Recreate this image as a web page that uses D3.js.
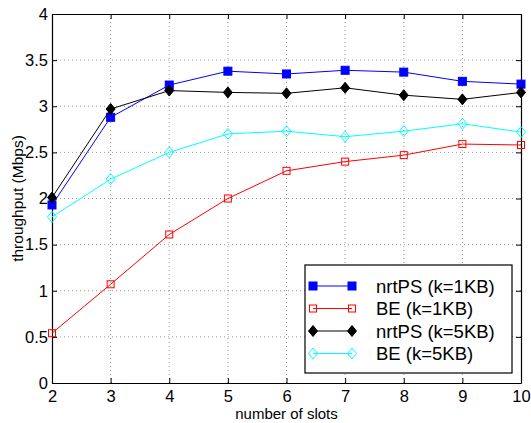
<!DOCTYPE html>
<html>
<head>
<meta charset="utf-8">
<script src="https://cdn.jsdelivr.net/npm/d3@7/dist/d3.min.js"></script>
<style>
  body { margin: 0; background: #fff; }
  svg { font-family: "Liberation Sans", Arial, Helvetica, sans-serif; }
</style>
</head>
<body>
<div id="chart"></div>
<script>
var width = 531, height = 423,
    margins = {top: 14, right: 10, bottom: 40, left: 52}

var slots = [2, 3, 4, 5, 6, 7, 8, 9, 10]
var nrtps1 = [1.93, 2.88, 3.23, 3.38, 3.35, 3.39, 3.37, 3.27, 3.24]
var be1 = [0.54, 1.07, 1.61, 2.00, 2.30, 2.40, 2.47, 2.59, 2.58]
var nrtps5 = [2.01, 2.97, 3.17, 3.15, 3.14, 3.20, 3.12, 3.075, 3.15]
var be5 = [1.80, 2.21, 2.50, 2.70, 2.73, 2.67, 2.73, 2.81, 2.72]
var yTicks = [0, 0.5, 1, 1.5, 2, 2.5, 3, 3.5, 4]

var series = [
    {name: 'nrtPS (k=1KB)', values: nrtps1, color: '#0000ff', shape: 'square', filled: true},
    {name: 'BE (k=1KB)', values: be1, color: '#ff0000', shape: 'square', filled: false},
    {name: 'nrtPS (k=5KB)', values: nrtps5, color: '#000000', shape: 'diamond', filled: true},
    {name: 'BE (k=5KB)', values: be5, color: '#00ffff', shape: 'diamond', filled: false}
]

var x = d3.scaleLinear().domain([2, 10]).range([margins.left, width - margins.right])
var y = d3.scaleLinear().domain([0, 4]).range([height - margins.bottom, margins.top])

var svg = d3.select('#chart').append('svg')
    .attr('width', width)
    .attr('height', height)

// grid
var grid = svg.append('g').attr('class', 'grid')
grid.selectAll('.gx').data(slots.slice(1, -1)).enter().append('line')
    .attr('x1', d => x(d)).attr('x2', d => x(d))
    .attr('y1', y(0)).attr('y2', y(4))
    .attr('stroke', '#999').attr('stroke-width', 1).attr('stroke-dasharray', '1,3')
grid.selectAll('.gy').data(yTicks.slice(1, -1)).enter().append('line')
    .attr('y1', d => y(d)).attr('y2', d => y(d))
    .attr('x1', x(2)).attr('x2', x(10))
    .attr('stroke', '#999').attr('stroke-width', 1).attr('stroke-dasharray', '1,3')

// axes, matlab style ticks inside
var xAxis = d3.axisBottom(x).tickValues(slots).tickSizeInner(-5).tickSizeOuter(0).tickPadding(7.5)
var yAxis = d3.axisLeft(y).tickValues(yTicks).tickFormat(d3.format('')).tickSizeInner(-5).tickSizeOuter(0).tickPadding(4)

var gx = svg.append('g').attr('transform', 'translate(0,' + y(0) + ')').call(xAxis)
var gy = svg.append('g').attr('transform', 'translate(' + x(2) + ',0)').call(yAxis)
svg.append('g').attr('transform', 'translate(0,' + y(4) + ')')
    .call(d3.axisTop(x).tickValues(slots).tickSizeInner(-5).tickSizeOuter(0).tickFormat(''))
svg.append('g').attr('transform', 'translate(' + x(10) + ',0)')
    .call(d3.axisRight(y).tickValues(yTicks).tickSizeInner(-5).tickSizeOuter(0).tickFormat(''))

svg.selectAll('.domain').attr('stroke', '#000').attr('stroke-width', 1.2)
svg.selectAll('.tick line').attr('stroke', '#000')
svg.selectAll('.tick text').attr('font-size', 16.5).attr('fill', '#000').style('font-family', 'inherit')

// lines and markers
var line = d3.line().x((d, i) => x(slots[i])).y(d => y(d))

function marker(g, s, px, py) {
    var m
    if (s.shape == 'square') {
        var sz = s.filled ? 8 : 7
        m = g.append('rect').attr('x', px - sz/2).attr('y', py - sz/2).attr('width', sz).attr('height', sz)
    } else {
        var r = 5.5, w = 4.5
        m = g.append('path').attr('d', 'M' + px + ',' + (py - r) + 'L' + (px + w) + ',' + py + 'L' + px + ',' + (py + r) + 'L' + (px - w) + ',' + py + 'Z')
    }
    m.attr('fill', s.filled ? s.color : 'none').attr('stroke', s.color).attr('stroke-width', 1)
}

series.forEach(function(s) {
    var g = svg.append('g')
    g.append('path').datum(s.values)
        .attr('d', line)
        .attr('fill', 'none')
        .attr('stroke', s.color)
        .attr('stroke-width', 1)
    s.values.forEach(function(v, i) { marker(g, s, x(slots[i]), y(v)) })
})

// legend
var lg = svg.append('g')
lg.append('rect').attr('x', 305).attr('y', 265).attr('width', 207).attr('height', 108)
    .attr('fill', '#fff').attr('stroke', '#000').attr('stroke-width', 1.2)
series.forEach(function(s, i) {
    var ly = 286 + i * 22.5
    lg.append('line').attr('x1', 313).attr('x2', 352).attr('y1', ly).attr('y2', ly)
        .attr('stroke', s.color).attr('stroke-width', 1)
    marker(lg, s, 313, ly)
    marker(lg, s, 352, ly)
    lg.append('text').attr('x', 376).attr('y', ly + 6.5).attr('font-size', 18.5).text(s.name)
})

// labels
svg.append('text').attr('x', (x(2) + x(10)) / 2).attr('y', 419)
    .attr('text-anchor', 'middle').attr('font-size', 15).text('number of slots')
svg.append('text').attr('transform', 'translate(23,' + (y(0) + y(4)) / 2 + ') rotate(-90)')
    .attr('text-anchor', 'middle').attr('font-size', 15.5).text('throughput (Mbps)')
</script>
</body>
</html>
